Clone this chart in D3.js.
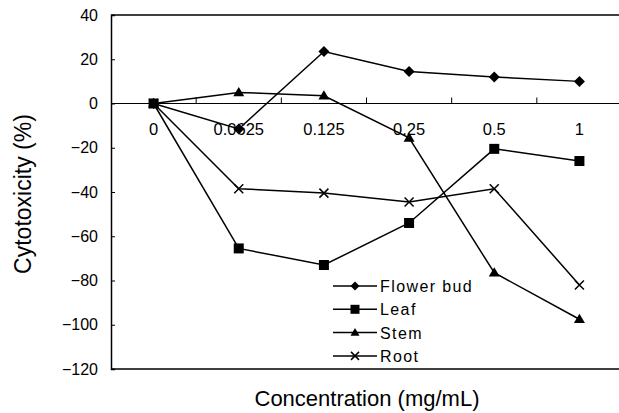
<!DOCTYPE html>
<html>
<head>
<meta charset="utf-8">
<script src="https://cdn.jsdelivr.net/npm/d3@7/dist/d3.min.js"></script>
<style>
html,body{margin:0;padding:0;background:#fff;}
svg{display:block;}
text{font-family:"Liberation Sans",Arial,Helvetica,sans-serif;fill:#000;}
</style>
</head>
<body>
<svg id="chart" width="619" height="413"></svg>
<script>
const categories = ["0", "0.0625", "0.125", "0.25", "0.5", "1"];
const flowerBud = [0, -11.5, 23.5, 14.5, 12, 10];
const leaf = [0, -65.5, -73, -54, -20.5, -26];
const stem = [0, 5, 3.5, -15.5, -76.5, -97.5];
const root = [0, -38.5, -40.5, -44.5, -38.5, -82];
const yTicks = [40, 20, 0, -20, -40, -60, -80, -100, -120];
const seriesNames = ["Flower bud", "Leaf", "Stem", "Root"];
const seriesValues = [flowerBud, leaf, stem, root];
const seriesMarkers = ["diamond", "square", "triangle", "cross"];

(function () {
const svg = d3.select("#chart");
const mLeft = 111, mRight = 622, mTop = 15, mBottom = 369;

const x = d3.scaleBand().domain(categories).range([mLeft, mRight]).padding(0);
const y = d3.scaleLinear().domain([-120, 40]).range([mBottom, mTop]);
const cx = c => x(c) + x.bandwidth() / 2;

// frame (top, bottom)
svg.append("line").attr("x1", mLeft).attr("x2", 619).attr("y1", mTop).attr("y2", mTop)
  .attr("stroke", "#000").attr("stroke-width", 1.5);
svg.append("line").attr("x1", mLeft).attr("x2", 619).attr("y1", mBottom).attr("y2", mBottom)
  .attr("stroke", "#000").attr("stroke-width", 1.5);

// y axis
const yAxis = d3.axisLeft(y).tickValues(yTicks).tickSize(-4).tickPadding(13)
  .tickFormat(d => d < 0 ? "\u2212" + Math.abs(d) : d);
const gy = svg.append("g").attr("transform", `translate(${mLeft},0)`).call(yAxis);
gy.select(".domain").attr("stroke-width", 1.5);
gy.selectAll("text").style("font-size", "16px").style("font-family", "'Liberation Sans',Arial,sans-serif");

// x category axis on the zero line
const zeroY = y(0);
const gx = svg.append("g").attr("transform", `translate(0,${zeroY})`);
gx.append("line").attr("x1", mLeft).attr("x2", 619).attr("y1", 0).attr("y2", 0)
  .attr("stroke", "#000").attr("stroke-width", 1);
categories.slice(1).forEach(c => {
  gx.append("line").attr("x1", x(c)).attr("x2", x(c)).attr("y1", 0).attr("y2", -6)
    .attr("stroke", "#000").attr("stroke-width", 1);
});
categories.forEach(c => {
  gx.append("text").attr("x", cx(c)).attr("y", 31).attr("text-anchor", "middle")
    .style("font-size", "16.5px").text(c);
});

// markers
function drawMarker(g, type, px, py, s) {
  if (type === "diamond") {
    g.append("path").attr("d", `M${px},${py - s}L${px + s},${py}L${px},${py + s}L${px - s},${py}Z`).attr("fill", "#000");
  } else if (type === "square") {
    g.append("rect").attr("x", px - s).attr("y", py - s).attr("width", 2 * s).attr("height", 2 * s).attr("fill", "#000");
  } else if (type === "triangle") {
    g.append("path").attr("d", `M${px},${py - s}L${px + s},${py + s * 0.7}L${px - s},${py + s * 0.7}Z`).attr("fill", "#000");
  } else {
    g.append("path").attr("d", `M${px - s},${py - s}L${px + s},${py + s}M${px - s},${py + s}L${px + s},${py - s}`)
      .attr("stroke", "#000").attr("stroke-width", 1.5).attr("fill", "none");
  }
}

const line = d3.line().x((d, i) => cx(categories[i])).y(d => y(d));
const order = [3, 2, 0, 1];
const sizes = { diamond: 5.5, square: 5, triangle: 5.5, cross: 4.5 };
order.forEach(k => {
  const g = svg.append("g");
  g.append("path").datum(seriesValues[k]).attr("d", line)
    .attr("fill", "none").attr("stroke", "#000").attr("stroke-width", 1.5);
  seriesValues[k].forEach((v, i) => drawMarker(g, seriesMarkers[k], cx(categories[i]), y(v), sizes[seriesMarkers[k]]));
});

// legend
const legendX = 333, legendY0 = 286, legendStep = 23.3;
const legSizes = { diamond: 4.5, square: 4.5, triangle: 4.5, cross: 4 };
seriesNames.forEach((name, k) => {
  const ly = legendY0 + k * legendStep;
  const g = svg.append("g");
  g.append("line").attr("x1", legendX).attr("x2", legendX + 44).attr("y1", ly).attr("y2", ly)
    .attr("stroke", "#000").attr("stroke-width", 1.5);
  drawMarker(g, seriesMarkers[k], legendX + 22, ly, legSizes[seriesMarkers[k]]);
  g.append("text").attr("x", legendX + 47).attr("y", ly + 6).style("font-size", "16px")
    .style("letter-spacing", "1.4px").text(name);
});

// axis titles
svg.append("text").attr("x", 367).attr("y", 406).attr("text-anchor", "middle")
  .style("font-size", "22px").text("Concentration (mg/mL)");
svg.append("text").attr("transform", "translate(31,194) rotate(-90)").attr("text-anchor", "middle")
  .style("font-size", "23px").text("Cytotoxicity (%)");
})();
</script>
</body>
</html>
